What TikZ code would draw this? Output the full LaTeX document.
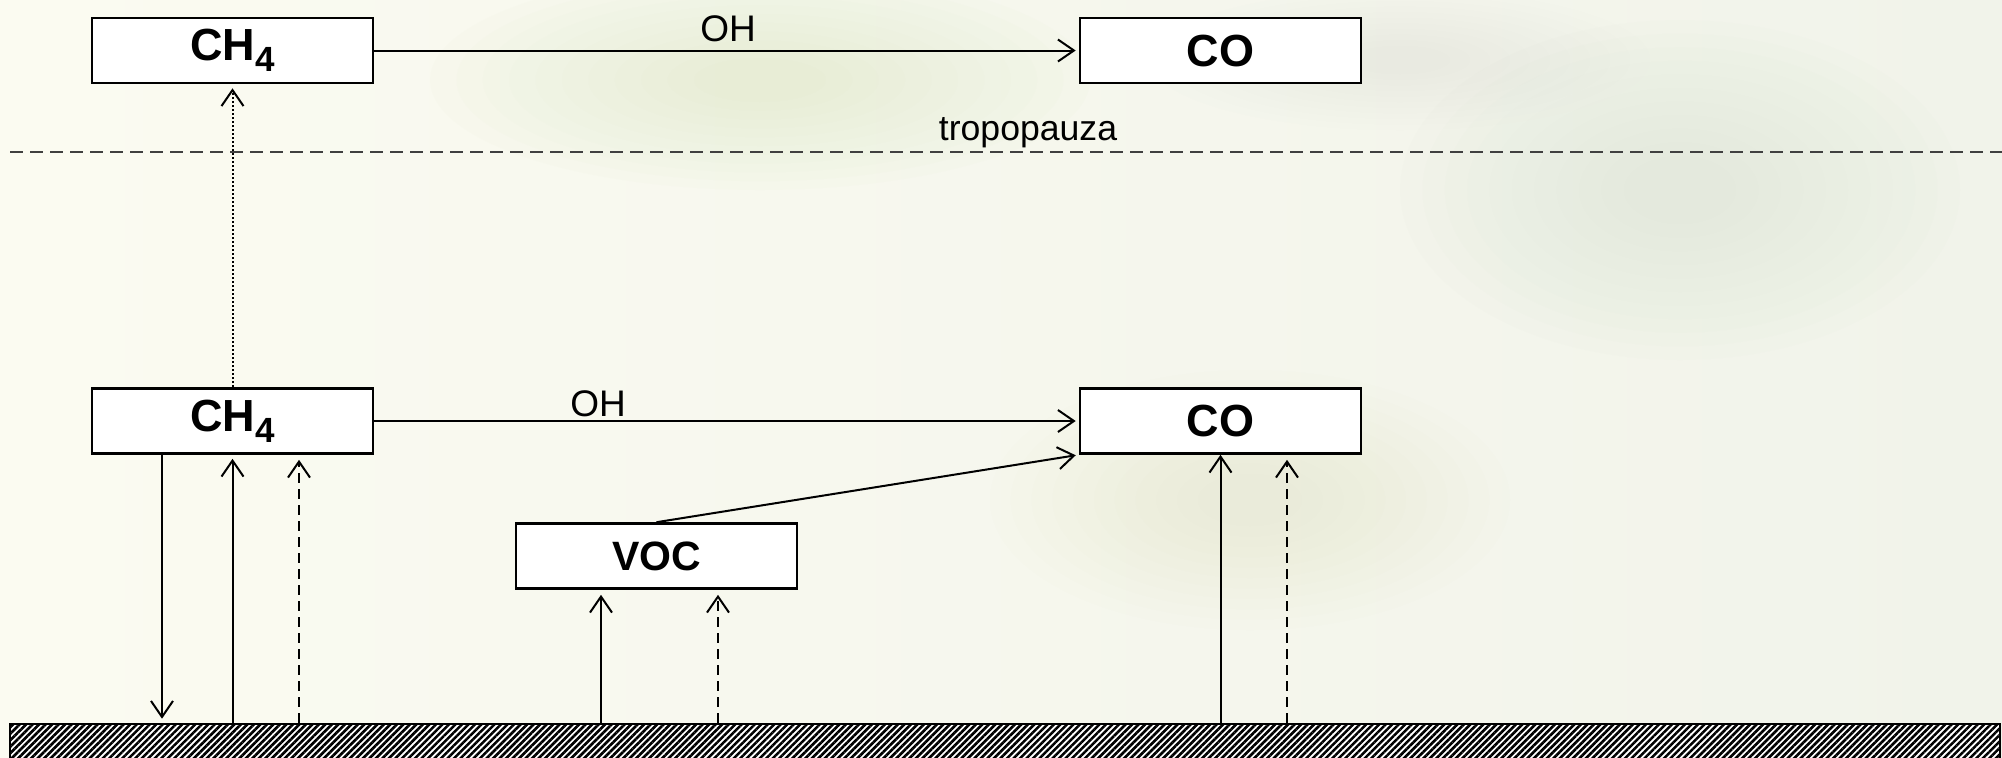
\documentclass[tikz,border=0pt]{standalone}
\usepackage{fontspec}
\setmainfont{Liberation Sans}
\usetikzlibrary{arrows.meta,patterns.meta}
\definecolor{bgL}{HTML}{FBFBF1}
\definecolor{bgM}{HTML}{F2F4E6}
\definecolor{bgR}{HTML}{F1F3EA}
\definecolor{blobA}{HTML}{DDE5C2}
\definecolor{blobB}{HTML}{D5DDCF}
\definecolor{blobC}{HTML}{FFFFF8}
\definecolor{tropo}{HTML}{404040}
\newcommand{\subfour}{\raisebox{-5.5pt}{\fontsize{17.5}{17.5}\selectfont 4}}
\begin{document}
\begin{tikzpicture}[x=0.5pt,y=-0.5pt,
  box/.style={draw=black,line width=1.3pt,fill=white,minimum width=140.5pt,
    minimum height=32.5pt,inner sep=0pt,font=\fontsize{22.5}{22.5}\selectfont\bfseries},
  lbl/.style={font=\fontsize{18.5}{18.5}\selectfont,inner sep=0pt,anchor=base},
  conn/.style={line width=1pt,-{Straight Barb[length=8pt,width=11pt,line width=1pt]}},
  dashconn/.style={conn,dash pattern=on 5pt off 3pt},
  dotconn/.style={conn,dash pattern=on 1pt off 1pt},
  groundbox/.style={draw=black,line width=1.1pt,inner sep=0pt,minimum width=995pt,
    minimum height=23pt,preaction={fill=white},
    pattern={Lines[angle=45,distance=2.3pt,line width=1.3pt]}}
]
% background
\useasboundingbox (0,0) rectangle (2002,757);
\fill[left color=bgL,middle color=bgM,right color=bgR] (0,0) rectangle (2002,757);
\foreach \s in {1,0.92,0.84,0.76,0.68,0.6,0.52,0.44,0.36,0.28,0.2}{
  \fill[blobA,fill opacity=0.05] (760,80) ellipse ({330*\s} and {110*\s});
  \fill[blobB,fill opacity=0.045] (1680,190) ellipse ({280*\s} and {170*\s});
  \fill[blobA,fill opacity=0.035] (1250,500) ellipse ({260*\s} and {130*\s});
  \fill[blobB,fill opacity=0.03] (1400,60) ellipse ({250*\s} and {70*\s});
  \fill[blobC,fill opacity=0.05] (1750,620) ellipse ({300*\s} and {120*\s});
  \fill[blobC,fill opacity=0.05] (60,450) ellipse ({120*\s} and {300*\s});
}
% tropopause
\draw[tropo,line width=0.75pt,dash pattern=on 6.5pt off 3.5pt] (10,152) -- (2002,152);
\node[lbl,font=\fontsize{17.8}{17.8}\selectfont] (tropolbl) at (1028,140) {tropopauza};
% boxes
\node[box] (ch4t) at (232.5,50.5) {CH\subfour};
\node[box] (cot) at (1220.5,50.5) {CO};
\node[box] (ch4b) at (232.5,421) {CH\subfour};
\node[box] (cob) at (1220.5,421) {CO};
\node[box,font=\fontsize{20.5}{20.5}\selectfont\bfseries] (voc) at (656.5,556) {VOC};
\node[groundbox] (ground) at (1005,747) {};
% x positions
\coordinate (xa) at (162,0);
\coordinate (xb) at (299,0);
\coordinate (xc) at (601,0);
\coordinate (xd) at (718,0);
\coordinate (xe) at (1287,0);
% horizontal reactions
\draw[conn,shorten >=1.5pt] (ch4t.east) -- (cot.west);
\node[lbl] (oht) at (728,41) {OH};
\draw[conn,shorten >=1.5pt] (ch4b.east) -- (cob.west);
\node[lbl] (ohb) at (598,416) {OH};
\draw[conn,shorten >=1.5pt] (voc.north) -- (cob.south west);
% vertical transport
\draw[dotconn,shorten >=2pt] (ch4b.north) -- (ch4t.south);
\draw[conn,shorten >=2pt] (ch4b.south -| xa) -- (ground.north -| xa);
\draw[conn,shorten >=2pt] (ground.north -| ch4b.south) -- (ch4b.south);
\draw[dashconn,shorten >=2.5pt] (ground.north -| xb) -- (ch4b.south -| xb);
\draw[conn,shorten >=2.5pt] (ground.north -| xc) -- (voc.south -| xc);
\draw[dashconn,shorten >=2.5pt] (ground.north -| xd) -- (voc.south -| xd);
\draw[conn] (ground.north -| cob.south) -- (cob.south);
\draw[dashconn,shorten >=2.5pt] (ground.north -| xe) -- (cob.south -| xe);
\end{tikzpicture}
\end{document}
